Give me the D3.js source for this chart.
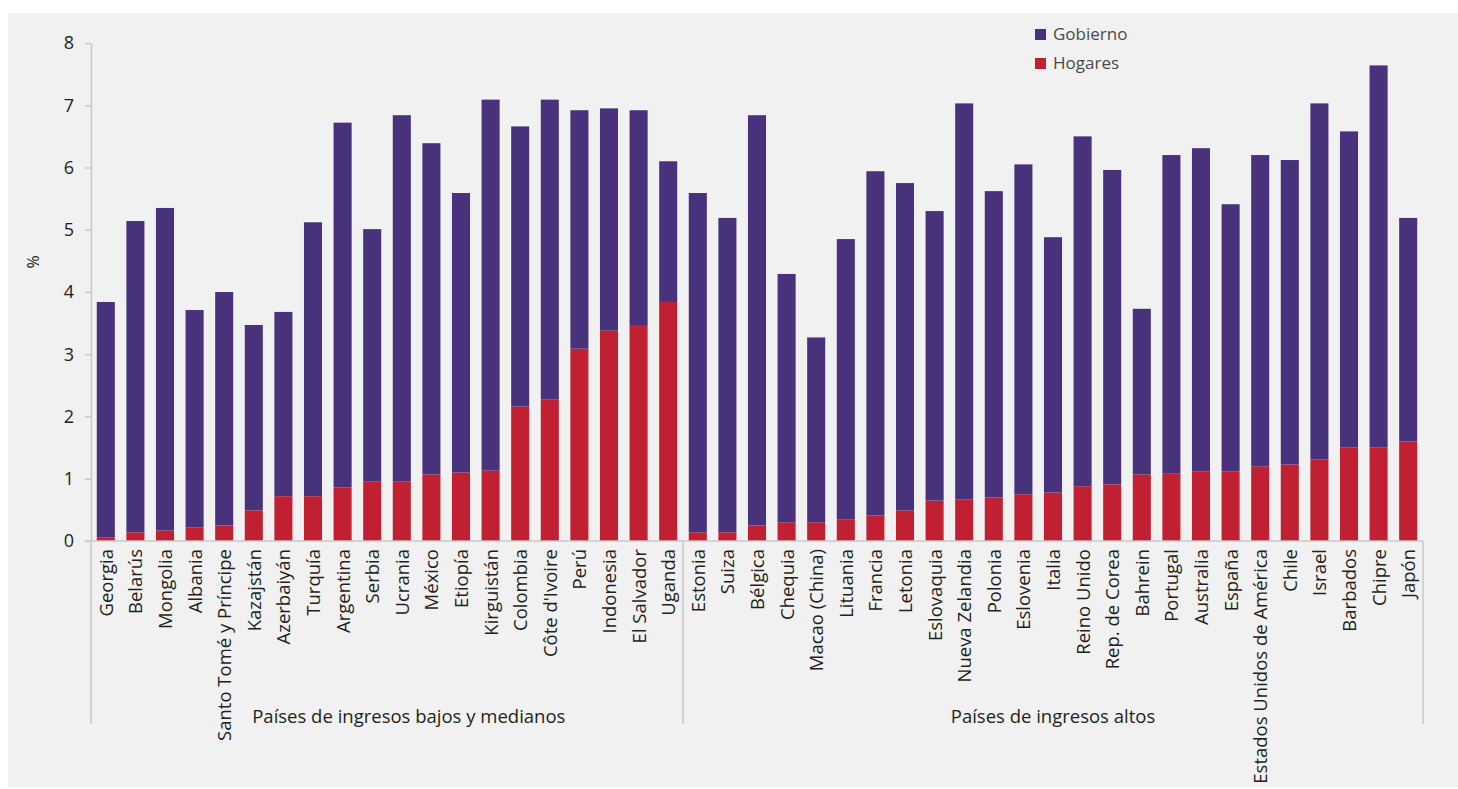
<!DOCTYPE html>
<html>
<head>
<meta charset="utf-8">
<script src="https://cdn.jsdelivr.net/npm/d3@7"></script>
<style>
  body { margin: 0; background: #ffffff; }
  svg { display: block; font-family: "Open Sans", "Noto Sans", sans-serif; }
</style>
</head>
<body>
<svg id="chart" width="1458" height="789"></svg>
<script>
// data (%), stacked: Hogares at the bottom, Gobierno on top
const categories = [
  "Georgia", "Belarús", "Mongolia", "Albania", "Santo Tomé y Príncipe", "Kazajstán",
  "Azerbaiyán", "Turquía", "Argentina", "Serbia", "Ucrania", "México", "Etiopía",
  "Kirguistán", "Colombia", "Côte d'Ivoire", "Perú", "Indonesia", "El Salvador", "Uganda",
  "Estonia", "Suiza", "Bélgica", "Chequia", "Macao (China)", "Lituania", "Francia",
  "Letonia", "Eslovaquia", "Nueva Zelandia", "Polonia", "Eslovenia", "Italia",
  "Reino Unido", "Rep. de Corea", "Bahrein", "Portugal", "Australia", "España",
  "Estados Unidos de América", "Chile", "Israel", "Barbados", "Chipre", "Japón"
];

const hogares = [
  0.06, 0.14, 0.17, 0.22, 0.25, 0.49, 0.72, 0.72, 0.86, 0.96, 0.96, 1.07, 1.10,
  1.13, 2.16, 2.27, 3.09, 3.38, 3.47, 3.84,
  0.14, 0.14, 0.25, 0.30, 0.30, 0.35, 0.41, 0.49, 0.65, 0.67, 0.70, 0.75, 0.78,
  0.88, 0.91, 1.07, 1.09, 1.12, 1.12, 1.20, 1.23, 1.31, 1.50, 1.50, 1.60
];

const gobierno = [
  3.78, 5.00, 5.18, 3.49, 3.75, 2.98, 2.96, 4.40, 5.86, 4.05, 5.88, 5.32, 4.49,
  5.96, 4.50, 4.82, 3.83, 3.57, 3.45, 2.26,
  5.45, 5.05, 6.59, 3.99, 2.97, 4.50, 5.53, 5.26, 4.65, 6.36, 4.92, 5.30, 4.10,
  5.62, 5.05, 2.66, 5.11, 5.19, 4.29, 5.00, 4.89, 5.72, 5.08, 6.14, 3.59
];

const groups = [
  {name: "Países de ingresos bajos y medianos", first: "Georgia", last: "Uganda"},
  {name: "Países de ingresos altos", first: "Estonia", last: "Japón"}
];

const series_names = ["Hogares", "Gobierno"];
const colors = {"Gobierno": "#47327b", "Hogares": "#c12033"};
const y_ticks = [0, 1, 2, 3, 4, 5, 6, 7, 8];

let table = categories.map((c, i) => ({category: c, Hogares: hogares[i], Gobierno: gobierno[i]}));

let svg = d3.select("#chart");

// grey panel behind the chart
svg.append("rect")
  .attr("x", 8).attr("y", 13)
  .attr("width", 1450).attr("height", 774)
  .attr("fill", "#f1f1f1");

let margin = {top: 43, left: 91, right: 1423, bottom: 541};

let x_scale = d3.scaleBand()
  .domain(categories)
  .range([margin.left, margin.right])
  .paddingInner(0.39)
  .paddingOuter(0.195);

let y_scale = d3.scaleLinear()
  .domain([0, 8])
  .range([margin.bottom, margin.top]);

// Y-axis
let y_axis = svg.append("g")
  .attr("class", "y-axis-g")
  .attr("transform", `translate(${margin.left}, 0)`)
  .call(d3.axisLeft(y_scale).tickValues(y_ticks).tickSize(6).tickSizeOuter(0).tickPadding(11));

y_axis.select(".domain").attr("stroke", "#c9c9c9").attr("stroke-width", 1.5);
y_axis.selectAll(".tick line").attr("stroke", "#c9c9c9").attr("stroke-width", 1.5);
y_axis.selectAll(".tick text")
  .attr("font-size", 18)
  .attr("font-family", "Open Sans")
  .attr("fill", "#231f20");

// Y-axis label
svg.append("text")
  .attr("transform", `translate(39, ${(margin.top + margin.bottom) / 2 - 30}) rotate(-90)`)
  .attr("text-anchor", "middle")
  .attr("font-size", 16)
  .attr("fill", "#231f20")
  .text("%");

// Stacked bars
let stacked = d3.stack().keys(series_names)(table);

svg.append("g")
  .selectAll("g")
  .data(stacked)
  .join("g")
  .attr("fill", d => colors[d.key])
  .selectAll("rect")
  .data(d => d)
  .join("rect")
  .attr("x", d => x_scale(d.data.category))
  .attr("y", d => y_scale(d[1]))
  .attr("height", d => y_scale(d[0]) - y_scale(d[1]))
  .attr("width", x_scale.bandwidth());

// baseline
svg.append("line")
  .attr("x1", margin.left - 6).attr("x2", margin.right)
  .attr("y1", y_scale(0)).attr("y2", y_scale(0))
  .attr("stroke", "#c9c9c9").attr("stroke-width", 1.5);

// Category labels
svg.append("g")
  .selectAll("text")
  .data(categories)
  .join("text")
  .attr("transform", d => `translate(${x_scale(d) + x_scale.bandwidth() / 2 + 7}, ${y_scale(0) + 8}) rotate(-90)`)
  .attr("text-anchor", "end")
  .attr("font-size", 18.5)
  .attr("fill", "#231f20")
  .text(d => d);

// Group separators and group labels
let half_gap = x_scale.step() * x_scale.paddingInner() / 2;
let group_bottom = 724;
let edges = [margin.left, x_scale("Estonia") - half_gap, margin.right];

svg.append("g")
  .selectAll("line")
  .data(edges)
  .join("line")
  .attr("x1", d => d).attr("x2", d => d)
  .attr("y1", y_scale(0)).attr("y2", group_bottom)
  .attr("stroke", "#c9c9c9").attr("stroke-width", 1.5);

// left label starts right of the long "Santo Tomé y Príncipe" label
let label_pos = [
  {x: x_scale("Santo Tomé y Príncipe") + x_scale.bandwidth() + 19, anchor: "start"},
  {x: (edges[1] + edges[2]) / 2, anchor: "middle"}
];

svg.append("g")
  .selectAll("text")
  .data(groups)
  .join("text")
  .attr("x", (d, i) => label_pos[i].x)
  .attr("y", 723)
  .attr("text-anchor", (d, i) => label_pos[i].anchor)
  .attr("font-size", 18.5)
  .attr("fill", "#231f20")
  .text(d => d.name);

// Legend
let legend = svg.append("g")
  .attr("transform", "translate(1035, 29)");

let legend_items = ["Gobierno", "Hogares"];

legend.selectAll("rect")
  .data(legend_items)
  .join("rect")
  .attr("x", 0)
  .attr("y", (d, i) => i * 29)
  .attr("width", 11).attr("height", 11)
  .attr("fill", d => colors[d]);

legend.selectAll("text")
  .data(legend_items)
  .join("text")
  .attr("x", 18)
  .attr("y", (d, i) => i * 29 + 11)
  .attr("font-size", 17)
  .attr("fill", "#4a4a4a")
  .text(d => d);
</script>
</body>
</html>
